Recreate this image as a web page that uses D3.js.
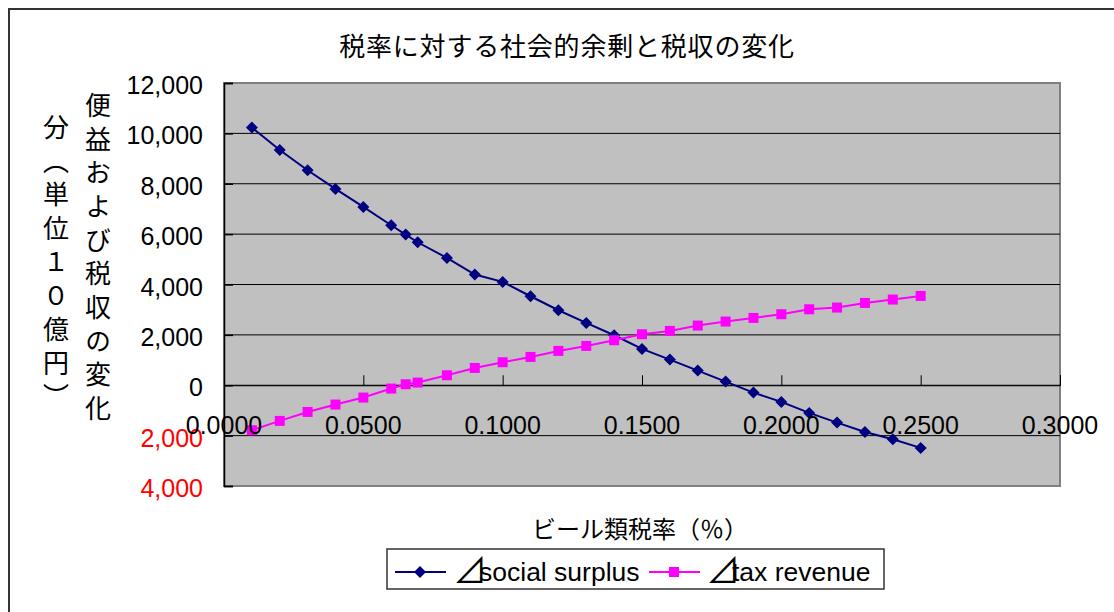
<!DOCTYPE html>
<html>
<head>
<meta charset="utf-8">
<script src="https://cdn.jsdelivr.net/npm/d3@7"></script>
<style>
  html, body { margin: 0; padding: 0; background: #fff; }
  svg { display: block; }
</style>
</head>
<body>
<svg id="chart" width="1114" height="612"></svg>
<script>
// Beer tax rate (x) and the change in social surplus / tax revenue (10 billion yen)
const taxRate = [0.01, 0.02, 0.03, 0.04, 0.05, 0.06, 0.0652, 0.0695, 0.08, 0.09,
  0.10, 0.11, 0.12, 0.13, 0.14, 0.15, 0.16, 0.17, 0.18, 0.19,
  0.20, 0.21, 0.22, 0.23, 0.24, 0.25];
const socialSurplus = [10231, 9342, 8536, 7795, 7080, 6352, 5982, 5677, 5055, 4394,
  4103, 3534, 2978, 2475, 1985, 1442, 1019, 582, 146, -291,
  -662, -1099, -1482, -1853, -2144, -2488];
const taxRevenue = [-1787, -1416, -1059, -767, -489, -132, 40, 106, 397, 687,
  913, 1125, 1363, 1561, 1787, 2025, 2157, 2370, 2529, 2673,
  2819, 3017, 3085, 3268, 3402, 3546];

const yTicks = [-4000, -2000, 0, 2000, 4000, 6000, 8000, 10000, 12000];
const xTicks = [0, 0.05, 0.10, 0.15, 0.20, 0.25, 0.30];

const titleText = "税率に対する社会的余剰と税収の変化";
const xTitle = "ビール類税率（％）";
const yTitleLines = ["便益および税収の変化", "分（単位１０億円）"];
const seriesNames = ["⊿social surplus", "⊿tax revenue"];

const svg = d3.select("#chart");
const latin = "'Liberation Sans', Arial, 'Noto Sans CJK JP', sans-serif";
const cjk = "'Noto Sans CJK JP', 'Liberation Sans', sans-serif";

const plot = { left: 224, right: 1060, top: 83, bottom: 486 };
const x = d3.scaleLinear().domain([0, 0.3]).range([plot.left, plot.right]);
const y = d3.scaleLinear().domain([-4000, 12000]).range([plot.bottom, plot.top]);

// outer chart frame
svg.append("rect")
  .attr("x", 9).attr("y", 9).attr("width", 1130).attr("height", 630)
  .attr("fill", "none").attr("stroke", "#333").attr("stroke-width", 2);

// title
svg.append("text")
  .attr("x", 567).attr("y", 44)
  .attr("text-anchor", "middle").attr("dominant-baseline", "central")
  .attr("font-family", cjk).attr("font-size", 26).attr("letter-spacing", 0.8)
  .text(titleText);

// plot background
svg.append("rect")
  .attr("x", plot.left).attr("y", plot.top)
  .attr("width", plot.right - plot.left).attr("height", plot.bottom - plot.top)
  .attr("fill", "#c0c0c0").attr("stroke", "#808080").attr("stroke-width", 2);

// horizontal gridlines
svg.append("g").selectAll("line")
  .data(yTicks.filter(v => v > -4000 && v < 12000))
  .join("line")
  .attr("x1", plot.left).attr("x2", plot.right)
  .attr("y1", d => y(d)).attr("y2", d => y(d))
  .attr("stroke", "#000").attr("stroke-width", 1);

// y axis (left edge) with inward ticks
const yAxis = d3.axisRight(y).tickValues(yTicks).tickSize(9).tickFormat("");
svg.append("g").attr("transform", `translate(${plot.left},0)`).call(yAxis)
  .call(g => g.select(".domain").attr("stroke", "#000").attr("stroke-width", 1.5))
  .call(g => g.selectAll(".tick line").attr("stroke", "#000").attr("stroke-width", 1.5));

// x axis crossing at zero with upward ticks
const xAxis = d3.axisTop(x).tickValues(xTicks).tickSize(10).tickFormat("");
svg.append("g").attr("transform", `translate(0,${y(0)})`).call(xAxis)
  .call(g => g.select(".domain").attr("stroke", "#000").attr("stroke-width", 1))
  .call(g => g.selectAll(".tick line").attr("stroke", "#000").attr("stroke-width", 1));

// y tick labels: negatives shown in red without a sign
const fmtY = d3.format(",");
svg.append("g").selectAll("text")
  .data(yTicks)
  .join("text")
  .attr("x", 203).attr("y", d => y(d) + 2)
  .attr("text-anchor", "end").attr("dominant-baseline", "central")
  .attr("font-family", latin).attr("font-size", 25)
  .attr("fill", d => d < 0 ? "#ff0000" : "#000")
  .text(d => fmtY(Math.abs(d)));

// series
const rows = taxRate.map((t, i) => ({ t, s: socialSurplus[i], r: taxRevenue[i] }));
const line = key => d3.line().x(d => x(d.t)).y(d => y(d[key]));

svg.append("path").datum(rows)
  .attr("d", line("s")).attr("fill", "none")
  .attr("stroke", "#000080").attr("stroke-width", 2);
svg.append("path").datum(rows)
  .attr("d", line("r")).attr("fill", "none")
  .attr("stroke", "#ff00ff").attr("stroke-width", 2);

const diamond = (cx, cy, r) => `M${cx},${cy - r}L${cx + r},${cy}L${cx},${cy + r}L${cx - r},${cy}Z`;
const square = (cx, cy, h) => `M${cx - h},${cy - h}h${2 * h}v${2 * h}h${-2 * h}Z`;

svg.append("g").selectAll("path")
  .data(rows).join("path")
  .attr("d", d => diamond(x(d.t), y(d.s), 6))
  .attr("fill", "#000080");
svg.append("g").selectAll("path")
  .data(rows).join("path")
  .attr("d", d => square(x(d.t), y(d.r), 5))
  .attr("fill", "#ff00ff");

// x tick labels below the zero line
const fmtX = d3.format(".4f");
svg.append("g").selectAll("text")
  .data(xTicks)
  .join("text")
  .attr("x", d => x(d)).attr("y", 434)
  .attr("text-anchor", "middle")
  .attr("font-family", latin).attr("font-size", 25)
  .text(d => fmtX(d));

// x axis title
svg.append("text")
  .attr("x", 640).attr("y", 527)
  .attr("text-anchor", "middle").attr("dominant-baseline", "central")
  .attr("font-family", cjk).attr("font-size", 24)
  .text(xTitle);

// vertical y axis title, two columns read right to left
const colX = [98, 56];
const colTop = [92, 114];
yTitleLines.forEach((s, i) => {
  svg.append("text")
    .attr("x", colX[i]).attr("y", colTop[i])
    .style("writing-mode", "vertical-rl")
    .attr("font-family", cjk).attr("font-size", 26)
    .attr("letter-spacing", 7.7)
    .text(s);
});

// legend
const legend = svg.append("g");
legend.append("rect")
  .attr("x", 387).attr("y", 549).attr("width", 497).attr("height", 40)
  .attr("fill", "#fff").attr("stroke", "#333").attr("stroke-width", 1.5);
const legendItems = [
  { name: seriesNames[0], color: "#000080", x0: 395, text: 453, shape: "d" },
  { name: seriesNames[1], color: "#ff00ff", x0: 649, text: 706, shape: "s" }
];
const ly = 572;
legendItems.forEach(it => {
  legend.append("line")
    .attr("x1", it.x0).attr("x2", it.x0 + 51)
    .attr("y1", ly).attr("y2", ly)
    .attr("stroke", it.color).attr("stroke-width", 2);
  legend.append("path")
    .attr("d", it.shape === "d" ? diamond(it.x0 + 25, ly, 6) : square(it.x0 + 25, ly, 5))
    .attr("fill", it.color);
  const t = legend.append("text")
    .attr("x", it.text).attr("y", ly + 9)
    .attr("font-family", latin).attr("font-size", 26.5);
  // the leading delta glyph is set large and the word tucks into it
  t.append("tspan")
    .attr("font-family", cjk).attr("font-size", 34)
    .attr("dy", 2)
    .text(it.name.slice(0, 1));
  t.append("tspan")
    .attr("dx", -8).attr("dy", -2)
    .text(it.name.slice(1));
});
</script>
</body>
</html>
